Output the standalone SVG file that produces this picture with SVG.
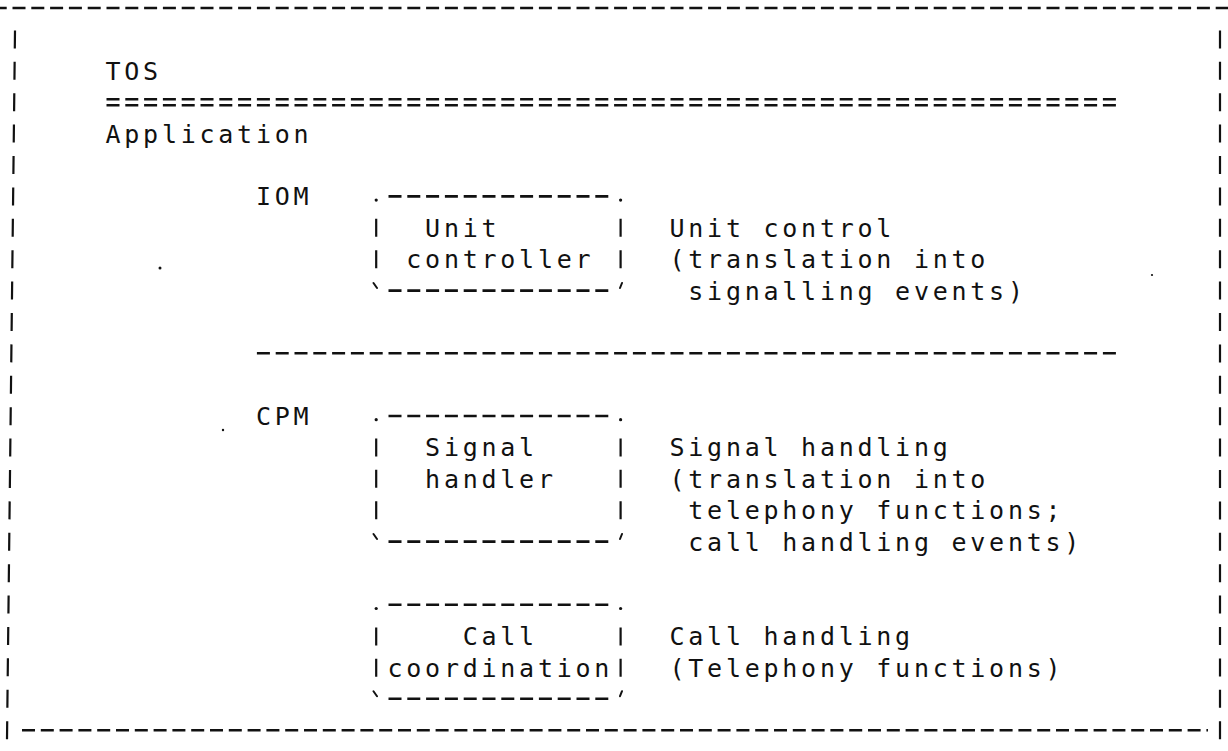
<svg xmlns="http://www.w3.org/2000/svg" width="1228" height="751" viewBox="0 0 1228 751">
<style>
  text { font-family: "DejaVu Sans Mono", "Liberation Mono", monospace; font-size: 25px; letter-spacing: 3.75px; fill: #111; }
  .dh { fill: none; stroke: #111; stroke-width: 2.6; stroke-dasharray: 13 5.8; }
  .dv { fill: none; stroke: #111; stroke-width: 2.2; stroke-dasharray: 18 13.4; }
  .bar { fill: none; stroke: #111; stroke-width: 2.2; }
  .tick { fill: none; stroke: #111; stroke-width: 2; stroke-linecap: round; }
  .speck { fill: #111; }
</style>
<rect x="0" y="0" width="1228" height="751" fill="#ffffff"/>

<g id="frame">
  <path class="dh" d="M -6.3 8 H 1228"/>
  <path class="dv" d="M 15 30.4 L 7 739.2"/>
  <path class="dv" d="M 1220 30.4 V 739.2"/>
  <path class="dh" d="M 22 730.2 H 1208"/>
</g>

<g id="header">
  <text x="105.5" y="79.8">TOS</text>
  <path class="dh" d="M 106.5 99.2 H 1115.9 M 106.5 105.2 H 1115.9"/>
  <text x="105.5" y="142.6">Application</text>
</g>

<g id="iom">
  <text x="255.9" y="205.4">IOM</text>
</g>

<g id="unit-controller">
  <path class="dh" d="M 388.5 196.4 H 608.3 M 388.5 290.6 H 608.3"/>
  <path class="bar" d="M 376.2 218.8 V 236.8 M 376.2 250.2 V 268.2 M 620.6 218.8 V 236.8 M 620.6 250.2 V 268.2"/>
  <circle cx="376.2" cy="200.1" r="1.6" class="speck"/>
  <circle cx="620.6" cy="200.1" r="1.6" class="speck"/>
  <path class="tick" d="M 373.5 283 L 377 288 M 622 283 L 620 288"/>
  <text x="425.1" y="236.8">Unit</text>
  <text x="406.3" y="268.2">controller</text>
</g>

<g id="unit-control-desc">
  <text x="669.5" y="236.8">Unit control</text>
  <text x="669.5" y="268.2">(translation into</text>
  <text x="688.3" y="299.6">signalling events)</text>
</g>

<g id="separator">
  <path class="dh" d="M 256.9 353.2 H 1115.9"/>
</g>

<g id="cpm">
  <text x="255.9" y="424.6">CPM</text>
</g>

<g id="signal-handler">
  <path class="dh" d="M 388.5 416 H 608.3 M 388.5 541.6 H 608.3"/>
  <path class="bar" d="M 376.2 438.4 V 456.4 M 376.2 469.8 V 487.8 M 376.2 501.2 V 519.2 M 620.6 438.4 V 456.4 M 620.6 469.8 V 487.8 M 620.6 501.2 V 519.2"/>
  <circle cx="376.2" cy="419.7" r="1.6" class="speck"/>
  <circle cx="620.6" cy="419.7" r="1.6" class="speck"/>
  <path class="tick" d="M 373.5 534 L 377 539 M 622 534 L 620 539"/>
  <text x="425.1" y="456.4">Signal</text>
  <text x="425.1" y="487.8">handler</text>
</g>

<g id="signal-handling-desc">
  <text x="669.5" y="456.4">Signal handling</text>
  <text x="669.5" y="487.8">(translation into</text>
  <text x="688.3" y="519.2">telephony functions;</text>
  <text x="688.3" y="550.6">call handling events)</text>
</g>

<g id="call-coordination">
  <path class="dh" d="M 388.5 604.8 H 608.3 M 388.5 698.8 H 608.3"/>
  <path class="bar" d="M 376.2 627.4 V 645.4 M 376.2 658.8 V 676.8 M 620.6 627.4 V 645.4 M 620.6 658.8 V 676.8"/>
  <circle cx="376.2" cy="608.5" r="1.6" class="speck"/>
  <circle cx="620.6" cy="608.5" r="1.6" class="speck"/>
  <path class="tick" d="M 373.5 691.2 L 377 696.2 M 622 691.2 L 620 696.2"/>
  <text x="462.7" y="645.4">Call</text>
  <text x="387.5" y="676.8">coordination</text>
</g>

<g id="call-handling-desc">
  <text x="669.5" y="645.4">Call handling</text>
  <text x="669.5" y="676.8">(Telephony functions)</text>
</g>

<g id="specks">
  <circle cx="160" cy="268" r="1.5" class="speck"/>
  <circle cx="223" cy="430" r="1.2" class="speck"/>
  <circle cx="1152" cy="275" r="1.1" class="speck"/>
</g>
</svg>
